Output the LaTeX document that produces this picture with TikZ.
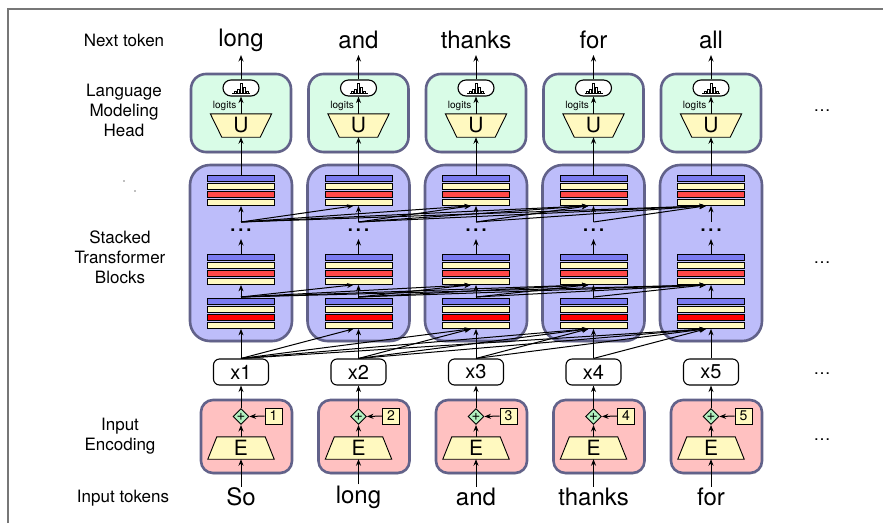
\documentclass[tikz,border=0pt]{standalone}
\usepackage{fontspec}
\setmainfont{TeX Gyre Heros}
\usetikzlibrary{arrows.meta}
\usetikzlibrary{shapes.geometric}
\usetikzlibrary{shadows}

\definecolor{headfill}{HTML}{D9FCE7}
\definecolor{blockfill}{HTML}{BDBDFA}
\definecolor{encfill}{HTML}{FFC1C1}
\definecolor{boxline}{HTML}{62628A}
\definecolor{barblue}{HTML}{7B7BF0}
\definecolor{baryellow}{HTML}{FFF9C0}
\definecolor{barred}{HTML}{FF4848}
\definecolor{plusgreen}{HTML}{B2F0C0}
\definecolor{framegray}{HTML}{777777}

\tikzset{
  >={Stealth[length=6.5pt,width=5pt]},
  panel/.style={draw=boxline, line width=2.6pt, rounded corners=#1, inner sep=0pt,
    drop shadow={opacity=.3, shadow xshift=.5pt, shadow yshift=-1.5pt}},
  bar/.style={draw=black, line width=.7pt, minimum width=67pt, minimum height=6pt, inner sep=0pt},
  tok/.style={font=\fontsize{24}{28}\selectfont, inner sep=1pt},
  lbl/.style={font=\fontsize{17}{20}\selectfont, align=center},
  link/.style={->, line width=1pt},
  trapbox/.style={inner sep=0pt},
  trapline/.style={draw=black, fill=baryellow, line width=.9pt},
  traptext/.style={font=\fontsize{21}{24}\selectfont, inner sep=0pt},
}

\begin{document}
\begin{tikzpicture}[x=1pt, y=-1pt]
\useasboundingbox (0,0) rectangle (883,523);

% frame
\draw[framegray, line width=2pt] (8,523) -- (8,9) -- (883,9);

% row labels
\node[lbl] (lnext) at (124,40) {Next token};
\node[lbl] (lhead) at (124,110) {Language\\Modeling\\Head};
\node[lbl] (lblock) at (120,257) {Stacked\\Transformer\\Blocks};
\node[lbl] (lenc) at (120,436) {Input\\Encoding};
\node[lbl] (lin) at (123,498) {Input tokens};
\fill[gray] (124,181) circle (.8);
\fill[gray] (135,191) circle (.8);

\foreach \i/\cx/\tok/\nxt in {1/241/So/long, 2/358.5/long/and, 3/476/and/thanks, 4/593.5/thanks/for, 5/711/for/all} {
  % panels
  \node[panel=15pt, fill=headfill, minimum width=100pt, minimum height=78pt] (head\i) at (\cx,113) {};
  \node[panel=20pt, fill=blockfill, minimum width=102pt, minimum height=176pt] (blk\i) at (\cx,253) {};
  \node[panel=12pt, fill=encfill, minimum width=91pt, minimum height=73pt] (enc\i) at (\cx+5.5,436.5) {};

  % transformer layers
  \node[bar, fill=barblue] (toptop\i) at (\cx,178.5) {};
  \node[bar, fill=baryellow] at (\cx,186.5) {};
  \node[bar, fill=barred] at (\cx,194.5) {};
  \node[bar, fill=baryellow] (top\i) at (\cx,202.5) {};
  \node[bar, fill=barblue] (midtop\i) at (\cx,257.5) {};
  \node[bar, fill=baryellow] at (\cx,265.5) {};
  \node[bar, fill=barred] at (\cx,273.5) {};
  \node[bar, fill=baryellow] (mid\i) at (\cx,281.5) {};
  \node[bar, fill=barblue] (lowtop\i) at (\cx,301.5) {};
  \node[bar, fill=baryellow] at (\cx,309.5) {};
  \node[bar, fill=red] at (\cx,317.5) {};
  \node[bar, fill=baryellow] (low\i) at (\cx,325.5) {};
  \node[font=\fontsize{18}{20}\bfseries] (dots\i) at (\cx,230) {.\,.\,.};
  \coordinate (jb\i) at (\cx,297);
  \coordinate (jt\i) at (\cx,222);
  \draw[link] (lowtop\i.north) -- (mid\i.south);
  \draw[link] (midtop\i.north) -- (\cx,239);
  \draw[link] (jt\i) -- (top\i.south);

  % language modeling head
  \node[trapbox, minimum width=61pt, minimum height=23pt] (U\i) at (\cx,125.5) {};
  \draw[trapline] (U\i.north west) -- (U\i.north east) -- ([xshift=-11.5pt]U\i.south east)
    -- ([xshift=11.5pt]U\i.south west) -- cycle;
  \node[traptext] (Utext\i) at (U\i) {U};
  \node[draw, fill=white, line width=1.1pt, rounded corners=8pt, minimum width=36pt, minimum height=16pt, inner sep=0pt] (dist\i) at (\cx,88) {};
  \draw[line width=.7pt] ([xshift=-9pt,yshift=-5pt]dist\i.center) -- ++(18,0);
  \draw[line width=.7pt] ([xshift=-7pt,yshift=-5pt]dist\i.center) rectangle ++(2,-2)
    ([xshift=-4pt,yshift=-5pt]dist\i.center) rectangle ++(2,-4)
    ([xshift=-1pt,yshift=-5pt]dist\i.center) rectangle ++(2,-10)
    ([xshift=2pt,yshift=-5pt]dist\i.center) rectangle ++(2,-6)
    ([xshift=5pt,yshift=-5pt]dist\i.center) rectangle ++(2,-2);
  \node[font=\fontsize{10}{12}\selectfont, anchor=east, inner sep=0pt] (logit\i) at (\cx-4.5,105.5) {logits};
  \draw[link] (U\i.north) -- (dist\i.south);
  \draw[link] (toptop\i.north) -- (U\i.south);
  \node[tok] (next\i) at (\cx,40) {\nxt};
  \draw[link] (dist\i.north) -- (\cx,55);

  % input encoding
  \node[draw, fill=white, line width=1.1pt, rounded corners=6pt, minimum width=55pt, minimum height=26pt, inner sep=0pt,
    font=\fontsize{20}{24}\selectfont] (x\i) at (\cx,372) {x\i};
  \node[trapbox, minimum width=66pt, minimum height=22pt] (E\i) at (\cx,448) {};
  \draw[trapline] (E\i.south west) -- (E\i.south east) -- ([xshift=-9pt]E\i.north east)
    -- ([xshift=9pt]E\i.north west) -- cycle;
  \node[traptext] (Etext\i) at (E\i) {E};
  \node[diamond, draw, fill=plusgreen, line width=.9pt, minimum size=16pt, inner sep=0pt,
    font=\fontsize{15}{15}\selectfont] (add\i) at (\cx,416.5) {+};
  \node[draw, fill=baryellow, line width=.9pt, minimum width=17pt, minimum height=16pt, inner sep=0pt,
    font=\fontsize{14}{16}\selectfont] (pos\i) at (\cx+32.5,416) {\i};
  \node[tok] (in\i) at (\cx,497) {\tok};
  \draw[link] (in\i.north) -- (E\i.south);
  \draw[link] (E\i.north) -- (add\i.south);
  \draw[link] (pos\i.west) -- (add\i.east);
  \draw[link] (add\i.north) -- (x\i.south);
  \draw[link] (x\i.north) -- (low\i.south);
}

% attention to earlier positions
\foreach \i in {1,...,4} {
  \pgfmathtruncatemacro\nx{\i+1}
  \foreach \j in {\nx,...,5} {
    \draw[link] (x\i.north) -- ([xshift=-5pt]low\j.south);
    \draw[link] (jb\i) -- ([xshift=-5pt]mid\j.south);
    \draw[link] (jt\i) -- ([xshift=-5pt]top\j.south);
  }
}

% more positions
\node[lbl] (morehead) at (822,111) {\dots};
\node[lbl] (moreblk) at (822,263) {\dots};
\node[lbl] (morex) at (822,374) {\dots};
\node[lbl] (moreenc) at (822,440) {\dots};
\end{tikzpicture}
\end{document}
